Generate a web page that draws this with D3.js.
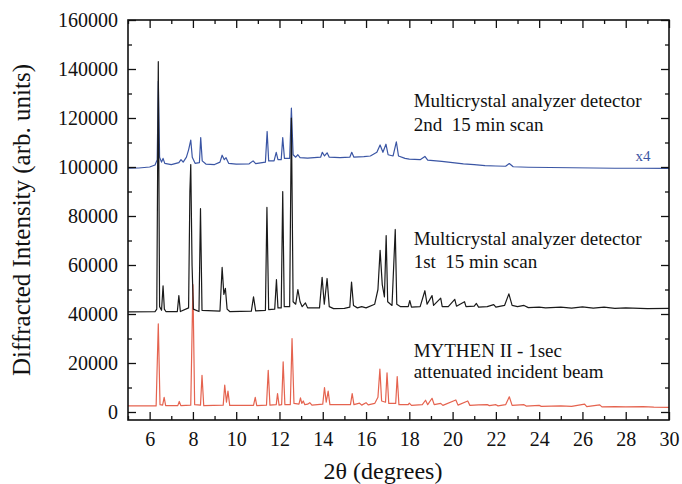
<!DOCTYPE html>
<html>
<head>
<meta charset="utf-8">
<script src="https://cdn.jsdelivr.net/npm/d3@7/dist/d3.min.js"></script>
<style>
body { margin: 0; background: #fff; }
svg text { font-family: "Liberation Serif", "DejaVu Serif", serif !important; fill: #111; }
</style>
</head>
<body>
<div id="container"></div>
<script>
// tick values
var xTicks = [6, 8, 10, 12, 14, 16, 18, 20, 22, 24, 26, 28, 30];
var xMinor = [5, 7, 9, 11, 13, 15, 17, 19, 21, 23, 25, 27, 29];
var yTicks = [0, 20000, 40000, 60000, 80000, 100000, 120000, 140000, 160000];
var yMinor = [10000, 30000, 50000, 70000, 90000, 110000, 130000, 150000];

// MYTHEN II - 1sec, [2theta, intensity]
var mythen = [
    [5.0, 2500], [6.3, 2500], [6.4, 36000], [6.48, 3000], [6.6, 2800], [6.67, 6000], [6.74, 2600],
    [7.3, 2600], [7.37, 4300], [7.44, 2600], [7.9, 2800], [8.0, 52000], [8.08, 3000],
    [8.35, 2800], [8.42, 15000], [8.5, 2600], [9.4, 2800], [9.47, 11000], [9.55, 4000],
    [9.62, 8500], [9.7, 2700], [10.8, 2700], [10.88, 6000], [10.95, 2600], [11.4, 2800],
    [11.48, 17000], [11.56, 2800], [11.85, 3000], [11.91, 7500], [11.98, 2800], [12.1, 3000],
    [12.17, 20500], [12.25, 3000], [12.5, 3000], [12.58, 30000], [12.67, 3500], [12.9, 3200],
    [12.97, 5800], [13.03, 3500], [13.1, 4500], [13.17, 3000], [13.3, 3200], [13.4, 3800],
    [13.5, 2800], [14.0, 3200], [14.08, 10000], [14.16, 4000], [14.25, 8500], [14.33, 3000],
    [15.28, 3000], [15.36, 7500], [15.44, 3000], [15.7, 3600], [15.8, 2800], [16.0, 3800],
    [16.1, 2900], [16.4, 3500], [16.55, 6000], [16.64, 17500], [16.72, 4500], [16.9, 4000],
    [16.97, 16000], [17.05, 3500], [17.37, 3500], [17.44, 14500], [17.52, 3000], [17.95, 3000],
    [18.0, 3600], [18.1, 2700], [18.6, 3000], [18.75, 4800], [18.85, 3000], [19.05, 5600],
    [19.15, 3000], [19.45, 3500], [19.55, 2700], [20.15, 4900], [20.25, 2800], [20.7, 4500],
    [20.8, 2700], [21.2, 2900], [21.6, 3000], [21.7, 2600], [22.0, 3000], [22.1, 2500],
    [22.45, 3000], [22.62, 6200], [22.75, 2700], [23.3, 3000], [23.4, 2400], [24.0, 2700],
    [24.1, 2300], [25.0, 2500], [25.5, 2300], [26.1, 3200], [26.2, 2200], [26.8, 2900],
    [26.9, 2100], [27.5, 2200], [28.0, 2100], [28.8, 2200], [29.3, 2000], [30.0, 1900]
];

// multicrystal analyzer, 1st 15 min scan
var scan1 = [
    [5.0, 40900], [6.25, 41000], [6.33, 42000], [6.4, 143000], [6.46, 43000], [6.55, 41500],
    [6.62, 51500], [6.68, 42000], [6.75, 41000], [7.28, 41000], [7.35, 47500], [7.42, 41000],
    [7.8, 42500], [7.86, 90000], [7.9, 101000], [7.96, 60000], [8.02, 42000], [8.28, 41000],
    [8.35, 83000], [8.42, 41500], [9.25, 41200], [9.35, 59000], [9.43, 48000], [9.5, 50500],
    [9.58, 42000], [9.7, 41000], [10.7, 41200], [10.8, 47000], [10.9, 41300], [11.35, 41500],
    [11.42, 83500], [11.5, 41800], [11.78, 42000], [11.86, 54000], [11.93, 42500], [12.08, 42500],
    [12.15, 90000], [12.22, 43000], [12.47, 43000], [12.55, 120000], [12.63, 45000], [12.75, 44000],
    [12.85, 50000], [12.95, 45000], [13.05, 43000], [13.2, 44500], [13.3, 42500], [13.85, 42500],
    [13.97, 55000], [14.07, 44000], [14.2, 54500], [14.3, 43000], [14.5, 42200], [15.0, 42300],
    [15.25, 42800], [15.33, 53000], [15.42, 43500], [15.6, 42500], [15.8, 43000], [16.0, 42500],
    [16.4, 44000], [16.55, 50000], [16.65, 66000], [16.75, 52000], [16.85, 47000], [16.93, 72000],
    [17.0, 45000], [17.2, 43500], [17.35, 74500], [17.42, 44000], [17.6, 43000], [17.95, 43000],
    [18.02, 45500], [18.1, 42800], [18.5, 43000], [18.72, 49500], [18.82, 44000], [19.05, 47500],
    [19.12, 43500], [19.45, 46500], [19.52, 43000], [19.8, 43000], [20.1, 46000], [20.18, 43200],
    [20.55, 45000], [20.62, 43000], [21.0, 43200], [21.1, 44300], [21.2, 42800], [21.6, 43000],
    [21.9, 43800], [22.0, 42800], [22.4, 43500], [22.6, 48200], [22.75, 43500], [23.0, 43000],
    [23.3, 43500], [23.5, 42600], [24.0, 42800], [24.3, 42500], [25.0, 42800], [25.5, 42400],
    [26.0, 42900], [26.5, 42400], [27.0, 42800], [27.5, 42300], [28.0, 42500], [29.0, 42200],
    [30.0, 42300]
];

// multicrystal analyzer, 2nd 15 min scan (x4)
var scan2 = [
    [5.0, 99500], [5.5, 99600], [6.0, 100000], [6.25, 100800], [6.35, 103000], [6.4, 135000],
    [6.46, 104000], [6.55, 102000], [6.62, 103500], [6.7, 101500], [7.0, 101000], [7.35, 101800],
    [7.45, 103000], [7.55, 102000], [7.7, 104000], [7.8, 107000], [7.9, 111000], [7.97, 104000],
    [8.1, 101500], [8.3, 101800], [8.36, 112000], [8.43, 102500], [8.6, 101200], [9.0, 101000],
    [9.25, 102000], [9.35, 104800], [9.45, 103000], [9.53, 103800], [9.65, 101500], [10.0, 101200],
    [10.6, 101300], [10.78, 102500], [10.9, 101400], [11.35, 102000], [11.43, 114500], [11.5, 102500],
    [11.75, 102500], [11.85, 106000], [11.93, 103000], [12.08, 103000], [12.15, 112000], [12.23, 103500],
    [12.47, 103500], [12.55, 124000], [12.63, 105000], [12.75, 104000], [12.85, 105000], [12.95, 103800],
    [13.3, 103600], [13.9, 104000], [13.98, 106000], [14.08, 104500], [14.2, 105800], [14.3, 104000],
    [14.8, 103800], [15.25, 104000], [15.34, 106000], [15.44, 104000], [15.9, 104200], [16.2, 104500],
    [16.5, 106000], [16.65, 109000], [16.78, 106000], [16.92, 109300], [17.02, 105000], [17.25, 104500],
    [17.4, 110300], [17.5, 104500], [17.8, 103500], [18.0, 103200], [18.5, 103000], [18.72, 104300],
    [18.85, 102800], [19.5, 102300], [20.0, 101800], [20.5, 101300], [21.0, 101000], [21.5, 100600],
    [22.0, 100400], [22.45, 100300], [22.62, 101400], [22.8, 100100], [23.5, 99900], [24.5, 99800],
    [25.5, 99700], [26.5, 99600], [27.5, 99500], [28.5, 99500], [30.0, 99400]
];

var series = [
    {name: "mythen", data: mythen, color: "#e5634f"},
    {name: "scan2", data: scan2, color: "#3a55a4"},
    {name: "scan1", data: scan1, color: "#1a1a1a"}
];

// labels, placed in data units
var notes = [
    {text: "Multicrystal analyzer detector", at: [18.2, 124400], color: "#111", size: 19},
    {text: "2nd  15 min scan", at: [18.2, 114800], color: "#111", size: 19},
    {text: "Multicrystal analyzer detector", at: [18.2, 68200], color: "#111", size: 19},
    {text: "1st  15 min scan", at: [18.2, 58800], color: "#111", size: 19},
    {text: "MYTHEN II - 1sec", at: [18.2, 22600], color: "#111", size: 19},
    {text: "attenuated incident beam", at: [18.2, 13800], color: "#111", size: 19},
    {text: "x4", at: [28.45, 102300], color: "#3a55a4", size: 15}
];

var width = 682,
    height = 484;
var plotL = 128, plotR = 669, plotT = 20, plotB = 420;
var serif = '"Liberation Serif", "DejaVu Serif", serif';

var svg = d3.select("#container").append("svg")
    .attr("width", width)
    .attr("height", height)
    .style("font-family", serif);

var x = d3.scaleLinear().domain([5, 30]).range([plotL, plotR]);
var y = d3.scaleLinear().domain([-3265, 160000]).range([plotB, plotT]);

svg.append("clipPath").attr("id", "clip")
    .append("rect")
    .attr("x", plotL).attr("y", plotT)
    .attr("width", plotR - plotL).attr("height", plotB - plotT);

var line = d3.line()
    .x(d => x(d[0]))
    .y(d => y(d[1]));

svg.append("g").attr("clip-path", "url(#clip)")
    .selectAll("path")
    .data(series)
    .enter().append("path")
    .attr("d", d => line(d.data))
    .attr("fill", "none")
    .attr("stroke", d => d.color)
    .attr("stroke-width", 1.2)
    .attr("stroke-linejoin", "round");

// axes, ticks pointing in
function styleAxis(g) {
    g.attr("font-family", null).style("font-family", serif);
    g.select(".domain").remove();
    g.selectAll("line").attr("stroke", "#111").attr("stroke-width", 1.3);
    g.selectAll("text").attr("font-size", "20px").style("font-family", serif).style("fill", "#111");
}

svg.append("g").attr("transform", "translate(0," + plotB + ")")
    .call(d3.axisBottom(x).tickValues(xTicks).tickFormat(d3.format("d")).tickSize(-8).tickPadding(12))
    .call(styleAxis);
svg.append("g").attr("transform", "translate(0," + plotB + ")")
    .call(d3.axisBottom(x).tickValues(xMinor).tickFormat("").tickSize(-4))
    .call(styleAxis);
svg.append("g").attr("transform", "translate(0," + plotT + ")")
    .call(d3.axisTop(x).tickValues(xTicks).tickFormat("").tickSize(-8))
    .call(styleAxis);
svg.append("g").attr("transform", "translate(0," + plotT + ")")
    .call(d3.axisTop(x).tickValues(xMinor).tickFormat("").tickSize(-4))
    .call(styleAxis);

svg.append("g").attr("transform", "translate(" + plotL + ",0)")
    .call(d3.axisLeft(y).tickValues(yTicks).tickFormat(d3.format("d")).tickSize(-8).tickPadding(10))
    .call(styleAxis);
svg.append("g").attr("transform", "translate(" + plotL + ",0)")
    .call(d3.axisLeft(y).tickValues(yMinor).tickFormat("").tickSize(-4))
    .call(styleAxis);
svg.append("g").attr("transform", "translate(" + plotR + ",0)")
    .call(d3.axisRight(y).tickValues(yTicks).tickFormat("").tickSize(-8))
    .call(styleAxis);
svg.append("g").attr("transform", "translate(" + plotR + ",0)")
    .call(d3.axisRight(y).tickValues(yMinor).tickFormat("").tickSize(-4))
    .call(styleAxis);

svg.append("rect")
    .attr("x", plotL).attr("y", plotT)
    .attr("width", plotR - plotL).attr("height", plotB - plotT)
    .attr("fill", "none")
    .attr("stroke", "#111")
    .attr("stroke-width", 1.6);

svg.selectAll(".note")
    .data(notes)
    .enter().append("text")
    .attr("class", "note")
    .attr("x", d => x(d.at[0]))
    .attr("y", d => y(d.at[1]))
    .attr("font-size", d => d.size + "px")
    .style("fill", d => d.color)
    .style("white-space", "pre")
    .text(d => d.text);

// axis titles
svg.append("text")
    .attr("x", 383)
    .attr("y", 479)
    .attr("text-anchor", "middle")
    .attr("font-size", "24px")
    .text("2θ (degrees)");

svg.append("text")
    .attr("transform", "translate(30,220) rotate(-90)")
    .attr("text-anchor", "middle")
    .attr("font-size", "25px")
    .text("Diffracted Intensity (arb. units)");
</script>
</body>
</html>
